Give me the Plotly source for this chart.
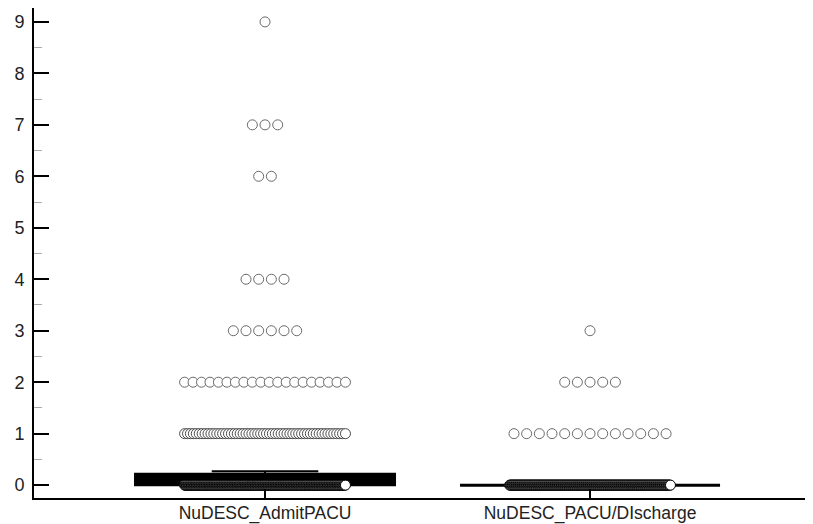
import plotly.graph_objects as go

# ---- data ----
categories = ["NuDESC_AdmitPACU", "NuDESC_PACU/DIscharge"]
admit_values = [0, 1, 2, 3, 4, 6, 7, 9]
admit_counts = [260, 56, 20, 6, 4, 2, 3, 1]
discharge_values = [0, 1, 2, 3]
discharge_counts = [240, 13, 5, 1]

# box statistics per category
box_q1 = [0.0, 0.0]
box_median = [0.0, 0.0]
box_q3 = [0.22, 0.0]
box_lowerfence = [0.0, 0.0]
box_upperfence = [0.27, 0.0]

y_ticks = list(range(0, 10))

# ---- dot layout (swarm rows) ----
STEP = 0.039      # normal spacing between neighbouring dots (x units)
MAXSPAN = 0.495   # widest row span (x units)


def swarm(center, values, counts):
    xs, ys, cols = [], [], []
    for v, n in zip(values, counts):
        step = STEP if n < 2 else min(STEP, MAXSPAN / (n - 1))
        start = center - step * (n - 1) / 2
        # very dense rows render as a solid dark band
        col = "black" if n > 100 else ("#4a4a4a" if n > 30 else "#6a6a6a")
        for i in range(n):
            xs.append(start + i * step)
            ys.append(v)
            cols.append(col)
    return xs, ys, cols


fig = go.Figure()

for i, lw in enumerate([2, 3]):
    fig.add_trace(go.Box(
        x=[i], q1=[box_q1[i]], median=[box_median[i]], q3=[box_q3[i]],
        lowerfence=[box_lowerfence[i]], upperfence=[box_upperfence[i]],
        width=0.8, whiskerwidth=0.41, fillcolor="black",
        line=dict(color="black", width=lw), boxpoints=False,
        hoverinfo="skip", showlegend=False,
    ))

for i, (vals, cnts) in enumerate([(admit_values, admit_counts),
                                   (discharge_values, discharge_counts)]):
    xs, ys, cols = swarm(i, vals, cnts)
    fig.add_trace(go.Scatter(
        x=xs, y=ys, mode="markers", showlegend=False,
        marker=dict(symbol="circle", size=10, color="white",
                    line=dict(color=cols, width=1)),
    ))

fig.update_layout(
    width=805, height=516,
    margin=dict(l=26, r=0, t=0, b=26, pad=0),
    paper_bgcolor="white", plot_bgcolor="white",
    font=dict(family="Liberation Sans, Arial, sans-serif", size=18, color="#222"),
    showlegend=False,
)
fig.update_xaxes(
    range=[-0.7108, 1.686], tickmode="array", tickvals=[0, 1], ticktext=categories,
    showgrid=False, zeroline=False, showline=True, linecolor="black", linewidth=2,
    ticks="inside", ticklen=9, tickwidth=2, tickcolor="black",
    ticklabelstandoff=-2, automargin=False, tickfont=dict(size=17.5),
)
fig.update_yaxes(
    range=[-0.25, 9.27], tickmode="array", tickvals=y_ticks,
    showgrid=False, zeroline=False, showline=True, linecolor="black", linewidth=2,
    ticks="inside", ticklen=15, tickwidth=2, tickcolor="black",
    minor=dict(ticks="inside", ticklen=8, tickwidth=1, tickcolor="#aaaaaa", dtick=0.5,
               tick0=0.5, showgrid=False),
    ticklabelstandoff=4, automargin=False,
)

fig.write_html("out.html")
